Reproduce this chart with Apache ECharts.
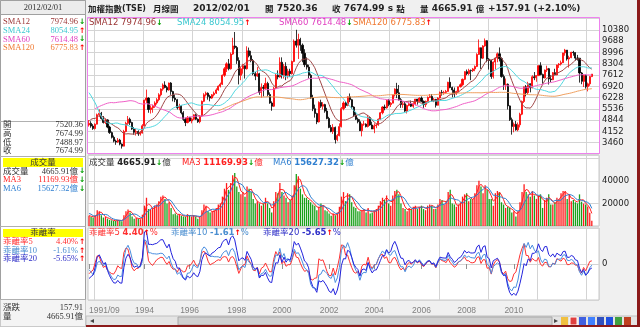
<!DOCTYPE html>
<html>
<head>
<meta charset="utf-8">
<script src="https://cdn.jsdelivr.net/npm/echarts@6/dist/echarts.min.js"></script>
<style>
html,body{margin:0;padding:0;background:#f0f0f0;}
#chart{width:640px;height:327px;}
</style>
</head>
<body>
<div id="chart"></div>
<script>
// 加權指數 (TSE) monthly bars, 1991/09 – 2012/02
const startYear = 1991, startMonth = 9;

const openP = [
4550,4650,4480,4330,
4600,5180,5270,4950,4700,4860,4420,4080,3790,3560,3500,3620,
3377,3250,4150,4650,4900,4700,4300,4100,4150,4000,4050,4500,
6070,6200,5500,5600,5700,5900,6100,6400,6750,7000,6850,6700,
7124,6600,6200,6100,5600,5700,5300,4900,4700,5000,4800,4900,
5173,4900,4750,5100,6000,6400,6500,6300,6200,6400,6500,6700,
6933,7050,7600,8000,8300,8000,8900,9400,9300,8500,7600,8000,
8187,8000,9100,8800,8500,7700,7550,7700,6550,6850,6800,7100,
6418,5900,5700,6800,7600,7500,8400,7600,8150,7600,7850,7700,
8448,9700,9450,9800,9450,8950,8250,8100,7600,6200,5550,5250,
4739,5936,5700,5800,5400,4950,4400,4150,4400,3650,3900,4450,
5551,5900,5750,6279,6100,5650,5150,4900,4750,4200,4600,4600,
4452,5000,4550,4300,4500,4550,4900,5300,5650,5600,6050,5800,
5890,6400,6750,6520,6100,5800,5850,5400,5750,5850,5700,5850,
6139,5990,6200,6000,5800,6000,6240,6300,6050,6120,5760,6200,
6548,6530,6550,6610,7170,6850,6700,6450,6600,6890,7020,7350,
7823,7700,7900,7880,7990,8140,8880,9290,8650,9400,9720,8590,
8506,7520,8410,8660,8920,8620,7520,7020,7050,5720,4870,4460,
4591,4250,4560,5210,5990,6890,6530,7080,6830,7510,7445,7580,
8188,7640,7440,7920,8004,7374,7329,7761,7616,8238,8287,8372,
8972,9145,8600,8682,9008,8990,8653,8644,7741,7225,7588,6904,
7072,7520.36
];
const highP = [
4850,4780,4600,4650,
5250,5500,5350,5100,4950,4900,4500,4150,3900,3650,3750,3700,
3420,4250,4750,5100,5000,4750,4420,4300,4220,4180,4600,6100,
6720,6250,5750,5800,6000,6200,6500,6800,7100,7230,6950,7150,
7180,6650,6400,6150,5850,5750,5400,5000,5100,5050,5000,5200,
5250,4950,5150,6050,6500,6600,6550,6400,6450,6600,6800,6980,
7150,7650,8100,8400,8600,9000,9900,10256,9400,8700,8100,8300,
8200,9380,9300,9100,8600,7800,8100,7750,7100,7000,7450,7200,
6550,6000,6900,7700,7900,8700,8700,8300,8400,8000,8000,8500,
9800,10393,10150,9900,9550,9200,8700,8250,7700,6400,5800,5300,
6000,6100,5950,5850,5600,5050,4550,4600,4450,4000,4650,5650,
6000,6000,6300,6484,6150,5700,5350,5000,4900,4650,4800,4650,
5150,5050,4750,4650,4650,4950,5350,5700,5800,6100,6150,5950,
6400,6800,7135,7000,6200,6000,6000,5800,5950,6050,5950,6150,
6150,6250,6300,6050,6050,6300,6450,6450,6200,6150,6250,6600,
6700,6650,6700,7200,7474,6900,6850,6650,6900,7100,7400,7850,
7950,8000,7950,8050,8200,8950,9800,9300,9450,9859,9750,8650,
8550,8450,8700,9000,9310,8700,7650,7400,7100,5750,5000,4700,
4800,4700,5300,6050,6900,7000,7200,7100,7600,7800,7600,8200,
8400,7700,7950,8190,8050,7600,7800,8000,8250,8350,8500,8980,
9220,9150,8800,9040,9100,9000,8850,8650,7800,7650,7650,7150,
7550,7674.99
];
const lowP = [
4450,4380,4250,4270,
4580,5030,4880,4640,4600,4350,4000,3720,3480,3330,3450,3300,
3100,3240,4100,4550,4550,4250,3950,3900,3880,3900,4020,4480,
5900,5300,5250,5300,5600,5800,6000,6300,6650,6800,6550,6650,
6400,6000,5950,5500,5450,5200,4800,4480,4650,4750,4650,4850,
4850,4680,4650,5080,5950,6300,6100,6000,6150,6300,6450,6650,
6850,7000,7500,7800,7900,7950,8850,9200,8300,7040,7300,7700,
7400,7950,8700,8400,7600,7300,7500,6400,6220,6300,6700,6300,
5850,5422,5650,6750,7350,7450,7400,7400,7300,7400,7500,7650,
8400,9300,8600,9100,8400,8100,7950,7400,6150,5400,5000,4600,
4700,5600,5500,5300,4900,4350,4100,4000,3411,3550,3850,4400,
5450,5600,5700,5950,5550,5050,4850,4650,4180,3850,4500,4400,
4400,4500,4300,4044,4350,4500,4850,5200,5450,5550,5700,5650,
5880,6300,6200,6050,5600,5600,5350,5255,5700,5650,5600,5750,
5800,5950,5950,5600,5650,5950,6200,6000,5950,5620,5740,6180,
6350,6400,6450,6600,6800,6250,6230,6400,6550,6850,6950,7300,
7600,7600,7300,7800,7850,8100,8850,7990,8600,9350,8400,7950,
7380,7400,7950,8400,8450,7450,6700,6700,5500,4800,3955,4100,
4200,4160,4400,5150,5900,6300,6400,6550,6800,7300,7200,7550,
7600,7080,7400,7800,7030,7180,7300,7600,7600,8050,8200,8350,
8800,8500,8070,8650,8800,8500,8500,7150,7050,6880,6780,6610,
6950,7488.97
];
const closeP = [
4650,4480,4330,4600,
5180,5270,4950,4700,4860,4420,4080,3790,3560,3500,3620,3377,
3250,4150,4650,4900,4700,4300,4100,4150,4000,4050,4500,6070,
6200,5500,5600,5700,5900,6100,6400,6750,7000,6850,6700,7124,
6600,6200,6100,5600,5700,5300,4900,4700,5000,4800,4900,5173,
4900,4750,5100,6000,6400,6500,6300,6200,6400,6500,6700,6933,
7050,7600,8000,8300,8000,8900,9400,9300,8500,7600,8000,8187,
8000,9100,8800,8500,7700,7550,7700,6550,6850,6800,7100,6418,
5900,5700,6800,7600,7500,8400,7600,8150,7600,7850,7700,8448,
9700,9450,9800,9450,8950,8250,8100,7600,6200,5550,5250,4739,
5936,5700,5800,5400,4950,4400,4150,4400,3650,3900,4450,5551,
5900,5750,6278.8,6100,5650,5150,4900,4750,4200,4600,4600,4452,
5000,4550,4300,4500,4550,4900,5300,5650,5600,6050,5800,5890,
6400,6750,6520,6100,5800,5850,5400,5750,5850,5700,5850,6139,
5990,6200,6000,5800,6000,6240,6300,6050,6120,5760,6200,6548,
6530,6550,6610,7170,6850,6700,6450,6600,6890,7020,7350,7823,
7700,7900,7880,7990,8140,8880,9290,8650,9400,9720,8590,8506,
7520,8410,8660,8920,8620,7520,7020,7050,5720,4870,4460,4591,
4250,4560,5210,5990,6890,6530,7080,6830,7510,7445,7580,8188,
7640,7440,7920.06,8004.41,7373.76,7329.37,7760.64,7616.19,8237.78,8287.09,8372.48,8972.50,
9145.35,8599.65,8682.23,9007.87,8989.57,8652.59,8644.27,7741.36,7225.38,7587.98,6904.12,7072.08,
7517.08,7674.99
];
// 成交量 (億)
const volume = [
9000,8000,7500,9500,
14000,13000,9500,7500,8000,6500,5500,5000,4500,4500,5500,5000,
4200,9500,13000,14500,12000,8500,6500,7000,6500,6000,10000,18000,
25000,15000,15000,15500,18000,19000,22000,26000,27000,24000,20000,21000,
16000,10500,11000,9500,10500,9000,8500,8000,10500,9000,8500,9500,
8500,6500,8500,14000,19000,18000,13000,12000,13000,14000,16000,19000,
20000,26000,33000,38000,32000,38000,45000,47000,35000,30000,28000,30000,
26000,35000,33000,30000,24000,20000,22000,20000,18000,20000,25000,20000,
16000,12000,22000,30000,29000,38000,30000,27000,25000,21000,23000,27000,
36000,46000,44000,33000,28000,25000,25000,23000,21000,19000,18000,14000,
17000,20000,18000,14000,13000,11000,9000,11000,9500,12000,17000,26000,
30000,22000,29000,28000,21000,17000,16000,13000,13000,14000,15000,12000,
16000,11000,12000,14000,15000,18000,22000,25000,23000,27000,20000,18000,
27000,31000,32000,28000,20000,16000,15000,13000,16000,15000,17000,18000,
15000,17000,18000,15000,14000,18000,19000,18000,15000,15000,19000,24000,
23000,19000,22000,30000,32000,20000,19000,17000,19000,21000,26000,28000,
29000,22000,24000,24000,29000,36000,40000,35000,29000,36000,32000,24000,
24000,18000,29000,31000,30000,21000,19000,16000,17000,16000,12000,13000,
8500,13000,21000,30000,37000,30000,28000,26000,31000,27000,24000,27000,
28000,16000,23000,25000,28000,19000,19000,21000,25000,24000,29000,31000,
31000,24000,28000,22000,23000,21000,20000,28000,21500,19800,18954.13,17200,
11643.88,4665.91
];
// history before the first drawn bar, used only by the moving averages
const priorClose = [
1100,1280,1450,1700,1750,1950,2300,3100,4400,2800,2400,2339,
2750,3300,3700,3450,3700,4800,5500,7000,8400,5700,6300,5119,
5700,6600,7500,8100,8900,9800,9600,10000,10300,9200,9700,9624,
11700,12400,11000,10000,7500,6000,5400,3800,3200,2900,3800,4530,
3900,4500,5200,5500,6300,5800,5600,4550
];
const priorVolume = [12000,15000,12000,9500,9000];

// bottom axis labels and the bars they sit on
const xTickIdx = [0,27,49,72,94,117,139,162,184,207];
const xTickText = ['1991/09','1994','1996','1998','2000','2002','2004','2006','2008','2010'];

const smaPeriods = [12,24,60,120];
const smaColors = ['#a04848','#50d8e0','#f060c8','#f0a060'];
const biasPeriods = [5,10,20];
const biasColors = ['#ff3030','#4a8ee0','#2222dd'];

// ---------- derived series ----------
const N = closeP.length;
const PAD = 3;
const months = [];
for (let i = 0; i < N + PAD; i++) {
  const m = startMonth - 1 + i;
  months.push(i < N ? (startYear + Math.floor(m / 12)) + '/' + String(m % 12 + 1).padStart(2, '0') : '');
}
const allClose = priorClose.concat(closeP);
const P0 = priorClose.length;
function movingAvg(arr, offset, n) {
  return closeP.map((_, i) => {
    const j = offset + i;
    if (j + 1 < n) return null;
    let s = 0;
    for (let k = j - n + 1; k <= j; k++) s += arr[k];
    return s / n;
  });
}
const smaSeries = smaPeriods.map(n => movingAvg(allClose, P0, n));
const biasSeries = biasPeriods.map(n => movingAvg(allClose, P0, n).map((m, i) => m == null ? null : (closeP[i] - m) / m * 100));
const allVol = priorVolume.concat(volume);
const volMA3 = movingAvg(allVol, priorVolume.length, 3);
const volMA6 = movingAvg(allVol, priorVolume.length, 6);

const candles = closeP.map((c, i) => [openP[i], c, lowP[i], highP[i]]);
const volBars = volume.map((v, i) => ({ value: v, itemStyle: { color: closeP[i] >= openP[i] ? '#ff1a1a' : '#1aa01a' } }));

function evenJan(idx) {
  const m = startMonth - 1 + idx;
  return m % 12 === 0 && (startYear + Math.floor(m / 12)) % 2 === 0;
}
// split line sits on the band edge before January
function splitAt(idx) { return idx + 1 < N && evenJan(idx + 1); }

const GL = 88, GW = 511;
const xBase = {
  type: 'category', data: months, boundaryGap: true,
  axisLine: { show: false }, axisTick: { show: false }, axisLabel: { show: false },
  splitLine: { show: true, interval: splitAt, lineStyle: { color: '#d4d4d4', width: 1 } }
};

const f = (n) => n.toFixed(2);
const last = N - 1;
const up = '{u|↑}', dn = '{d|↓}';
const arrowRich = { u: { fill: '#ff0000', font: 'bold 7.5px "DejaVu Sans"' }, d: { fill: '#00a000', font: 'bold 7.5px "DejaVu Sans"' } };

function t(x, y, text, font, fill, align, extra) {
  return { type: 'text', x: x, y: y, silent: true, z: 10,
    style: Object.assign({ text: text, font: font, fill: fill, textAlign: align || 'left', textVerticalAlign: 'middle', rich: arrowRich }, extra || {}) };
}
function r(x, y, w, h, fill, stroke, z) {
  return { type: 'rect', silent: true, z: z || 1, shape: { x: x, y: y, width: w, height: h }, style: { fill: fill, stroke: stroke || null, lineWidth: 1 } };
}
function ln(x1, y1, x2, y2, c, w) {
  return { type: 'line', silent: true, z: 9, shape: { x1: x1, y1: y1, x2: x2, y2: y2 }, style: { stroke: c, lineWidth: w || 1 } };
}

const smaVals = smaSeries.map(s => s[last]);
const smaPrev = smaSeries.map(s => s[last - 1]);
const biasVals = biasSeries.map(s => s[last]);
const biasPrev = biasSeries.map(s => s[last - 1]);
const arrowOf = (a, b) => (a >= b ? up : dn);

const titleRich = {
  c: { font: 'bold 8.5px "Noto Sans CJK TC"', fill: '#222' },
  l: { font: 'bold 8px "DejaVu Sans"', fill: '#222' }
};
const titleFont = 'bold 9px "DejaVu Sans"';
const legFont = '8.5px "DejaVu Sans", "Noto Sans CJK TC"';
const sideFont = '8.5px "Liberation Serif", "Noto Sans CJK TC"';
const chg = closeP[last] - closeP[last - 1];
function tt(x, text) { return t(x, 9, text, titleFont, '#222', 'left', { rich: titleRich }); }

const graphics = [
  // left info column
  r(0.5, 0.5, 85, 326, '#ffffff', '#a0a0a0', 0),
  r(0.5, 0.5, 85, 14, '#ececec', '#a0a0a0', 1),
  t(43, 8, months[last] + '/01', '8.5px "Liberation Serif"', '#333', 'center'),
  ln(0, 121.5, 86, 121.5, '#b0b0b0'),
  ln(0, 156.5, 86, 156.5, '#b0b0b0'),
  r(3, 158, 80, 9, '#ffff00', null, 2),
  t(43, 162.5, '成交量', sideFont, '#333', 'center'),
  ln(0, 226.5, 86, 226.5, '#b0b0b0'),
  r(3, 229, 80, 8, '#ffff00', null, 2),
  t(43, 233, '乖離率', sideFont, '#333', 'center'),
  ln(0, 299.5, 86, 299.5, '#b0b0b0'),
  r(0.5, 300, 85, 26.5, '#f4f4f4', null, 1),

  // title bar
  tt(88, '{c|加權指數}{l|(TSE)}'),
  tt(153, '{c|月線圖}'),
  tt(193, months[last] + '/01'),
  tt(265, '{c|開} ' + f(openP[last])),
  tt(332, '{c|收} ' + f(closeP[last]) + ' s {c|點}'),
  tt(420, '{c|量} ' + f(volume[last]) + ' {c|億}'),
  tt(488, '+' + f(chg) + ' (+' + (chg / closeP[last - 1] * 100).toFixed(2) + '%)'),

  // scroll bar and tool icons
  r(86, 316, 552, 10, '#e4e4e4', '#c0c0c0', 1),
  t(90, 321, '◂', '8px "DejaVu Sans"', '#444'),
  r(178, 317, 374, 8, '#cfcfcf', '#a8a8a8', 2),
  t(554, 321, '▸', '8px "DejaVu Sans"', '#444'),
  r(561, 317, 7, 8, '#f0c040', null, 3),
  r(570, 317, 7, 8, '#e04040', '#ffffff', 3),
  r(579, 317, 7, 8, '#4060e0', null, 3),
  r(588, 317, 7, 8, '#4080ff', null, 3),
  r(597, 317, 7, 8, '#3050c0', null, 3),
  r(606, 317, 7, 8, '#2050e0', null, 3),
  r(615, 317, 7, 8, '#40a040', null, 3),
  r(624, 317, 7, 8, '#c04020', null, 3),
  // outer frame
  ln(638.5, 0, 638.5, 327, '#8b1a1a', 3),
  ln(86, 326, 640, 326, '#8b1a1a', 2),
  // price panel frame
  { type: 'rect', silent: true, z: 8, shape: { x: GL - 0.5, y: 17.5, width: GW + 1, height: 136 }, style: { fill: null, stroke: '#ee82ee', lineWidth: 1 } }
];

// left column: moving averages
const smaLeft = ['SMA12', 'SMA24', 'SMA60', 'SMA120'];
const smaLeftColors = ['#9b3535', '#3cc8d0', '#e040c0', '#f07830'];
smaLeft.forEach((name, k) => {
  const y = 22 + k * 8.7;
  graphics.push(t(3, y, name, sideFont, smaLeftColors[k]));
  graphics.push(t(78, y, f(smaVals[k]), sideFont, smaLeftColors[k], 'right'));
  graphics.push(t(79, y, arrowOf(smaVals[k], smaPrev[k]), sideFont, '#000'));
});
// left column: open / high / low / close
[['開', openP[last]], ['高', highP[last]], ['低', lowP[last]], ['收', closeP[last]]].forEach((row, k) => {
  const y = 125 + k * 8.7;
  graphics.push(t(3, y, row[0], sideFont, '#333'));
  graphics.push(t(83, y, f(row[1]), sideFont, '#333', 'right'));
});
// left column: volume block
[['成交量', volume[last], volume[last - 1], '#333'],
 ['MA3', volMA3[last], volMA3[last - 1], '#ff2020'],
 ['MA6', volMA6[last], volMA6[last - 1], '#2f7fd0']].forEach((row, k) => {
  const y = 171.5 + k * 8.6;
  graphics.push(t(3, y, row[0], sideFont, row[3]));
  graphics.push(t(78, y, f(row[1]) + '億', sideFont, row[3], 'right'));
  graphics.push(t(79, y, arrowOf(row[1], row[2]), sideFont, '#000'));
});
// left column: bias block
const biasLeftColors = ['#ff3030', '#4a8ed0', '#3030c8'];
biasPeriods.forEach((n, k) => {
  const y = 242 + k * 8.6;
  graphics.push(t(3, y, '乖離率' + n, sideFont, biasLeftColors[k]));
  graphics.push(t(78, y, f(biasVals[k]) + '%', sideFont, biasLeftColors[k], 'right'));
  graphics.push(t(79, y, arrowOf(biasVals[k], biasPrev[k]), sideFont, '#000'));
});
// left column: change and volume
graphics.push(t(3, 308, '漲跌', sideFont, '#333'));
graphics.push(t(83, 308, f(chg), sideFont, '#333', 'right'));
graphics.push(t(3, 317, '量', sideFont, '#333'));
graphics.push(t(83, 317, f(volume[last]) + '億', sideFont, '#333', 'right'));

// panel legends
const smaLegX = [89, 177, 279, 353];
smaLeft.forEach((name, k) => {
  graphics.push(t(smaLegX[k], 23, name + ' ' + f(smaVals[k]) + arrowOf(smaVals[k], smaPrev[k]), legFont, smaLeftColors[k]));
});
const boldRich = (c) => Object.assign({ b: { font: 'bold 8.5px "DejaVu Sans"', fill: c } }, arrowRich);
graphics.push(t(89, 163, '成交量 {b|' + f(volume[last]) + '}' + arrowOf(volume[last], volume[last - 1]) + '億', legFont, '#333', 'left', { rich: boldRich('#222') }));
graphics.push(t(182, 163, 'MA3 {b|' + f(volMA3[last]) + '}' + arrowOf(volMA3[last], volMA3[last - 1]) + '億', legFont, '#ff2020', 'left', { rich: boldRich('#ff2020') }));
graphics.push(t(273, 163, 'MA6 {b|' + f(volMA6[last]) + '}' + arrowOf(volMA6[last], volMA6[last - 1]) + '億', legFont, '#2f7fd0', 'left', { rich: boldRich('#2f7fd0') }));
const biasLegX = [89, 171, 263];
biasPeriods.forEach((n, k) => {
  graphics.push(t(biasLegX[k], 233, '乖離率' + n + ' {b|' + f(biasVals[k]) + '}' + arrowOf(biasVals[k], biasPrev[k]) + '%', legFont, biasLeftColors[k], 'left', { rich: boldRich(biasLeftColors[k]) }));
});

const axisLabelStyle = { color: '#222', fontSize: 8.5, fontFamily: 'DejaVu Sans', margin: 3, formatter: (v) => String(v) };

const option = {
  animation: false,
  backgroundColor: '#f0f0f0',
  grid: [
    { left: GL, width: GW, top: 18.7, height: 135.3, show: true, backgroundColor: '#ffffff', borderColor: '#ee82ee', borderWidth: 0 },
    { left: GL, width: GW, top: 155.5, height: 70.5, show: true, backgroundColor: '#ffffff', borderColor: '#c8c8c8', borderWidth: 1 },
    { left: GL, width: GW, top: 228, height: 72, show: true, backgroundColor: '#ffffff', borderColor: '#c8c8c8', borderWidth: 1 }
  ],
  xAxis: [
    Object.assign({ gridIndex: 0 }, xBase),
    Object.assign({ gridIndex: 1 }, xBase),
    Object.assign({}, xBase, {
      gridIndex: 2,
      axisLine: { show: false },
      axisTick: { show: true, alignWithLabel: true, length: 5, interval: (i) => xTickIdx.indexOf(i) >= 0, lineStyle: { color: '#909090' } },
      axisLabel: { show: true, interval: (i) => xTickIdx.indexOf(i) >= 0, color: '#808080', fontSize: 8.5, fontFamily: 'Liberation Sans', margin: 6,
        alignMinLabel: 'left',
        formatter: (v, i) => { const k = xTickIdx.indexOf(i); return k >= 0 ? xTickText[k] : ''; } }
    })
  ],
  yAxis: [
    { gridIndex: 0, type: 'value', position: 'right', min: 2768, max: 11072, interval: 692,
      axisLine: { show: false }, axisTick: { show: false },
      axisLabel: Object.assign({ showMinLabel: false, showMaxLabel: false }, axisLabelStyle),
      splitLine: { lineStyle: { color: '#d4d4d4' } } },
    { gridIndex: 1, type: 'value', position: 'right', min: 0, max: 62400, interval: 20000,
      axisLine: { show: false }, axisTick: { show: false },
      axisLabel: Object.assign({}, axisLabelStyle, { showMinLabel: false, showMaxLabel: false, formatter: (v) => (v === 20000 || v === 40000) ? String(v) : '' }),
      splitLine: { lineStyle: { color: '#d4d4d4' } } },
    { gridIndex: 2, type: 'value', position: 'right', min: -50, max: 50, interval: 50,
      axisLine: { show: false }, axisTick: { show: false },
      axisLabel: Object.assign({ showMinLabel: false, showMaxLabel: false }, axisLabelStyle),
      splitLine: { lineStyle: { color: '#d4d4d4' } } }
  ],
  series: [
    { type: 'candlestick', xAxisIndex: 0, yAxisIndex: 0, data: candles, barWidth: 1.6, clip: true,
      itemStyle: { color: '#ff0000', color0: '#000000', borderColor: '#ff0000', borderColor0: '#000000', borderWidth: 0.8 } }
  ].concat(smaSeries.map((s, k) => ({
    type: 'line', xAxisIndex: 0, yAxisIndex: 0, data: s, showSymbol: false, silent: true,
    lineStyle: { color: smaColors[k], width: 1 }, z: 3
  }))).concat([
    { type: 'bar', xAxisIndex: 1, yAxisIndex: 1, data: volBars, barWidth: 1.3, silent: true },
    { type: 'line', xAxisIndex: 1, yAxisIndex: 1, data: volMA3, showSymbol: false, silent: true, lineStyle: { color: '#ff2020', width: 1 }, z: 3 },
    { type: 'line', xAxisIndex: 1, yAxisIndex: 1, data: volMA6, showSymbol: false, silent: true, lineStyle: { color: '#2f7fd0', width: 1 }, z: 3 }
  ]).concat(biasSeries.map((s, k) => ({
    type: 'line', xAxisIndex: 2, yAxisIndex: 2, data: s, showSymbol: false, silent: true,
    lineStyle: { color: biasColors[k], width: 1 }, z: 3
  }))),
  graphic: { elements: graphics }
};

const chart = echarts.init(document.getElementById('chart'), null, { renderer: 'canvas', width: 640, height: 327 });
chart.setOption(option);
</script>
</body>
</html>
